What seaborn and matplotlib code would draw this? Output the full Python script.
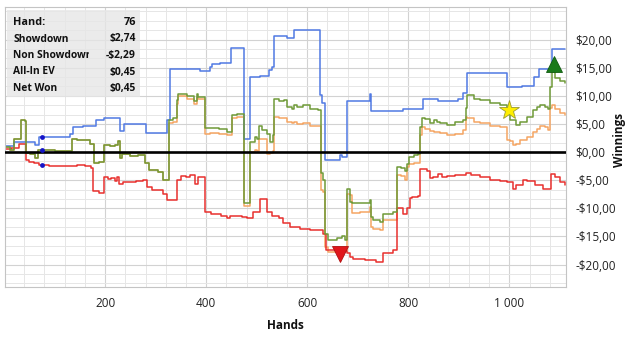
import matplotlib
matplotlib.use("Agg")
import matplotlib.pyplot as plt
from matplotlib.ticker import MultipleLocator, FuncFormatter
from matplotlib.patches import Rectangle
import numpy as np
import pandas as pd
import seaborn as sns

# ---------------- data ----------------
sd_hands = [2, 19, 61, 70, 131, 136, 156, 183, 198, 230, 238, 281, 322, 329, 388, 408, 411, 427,
            449, 475, 487, 507, 525, 530, 534, 559, 574, 625, 629, 635, 665, 668, 678, 724, 726,
            790, 830, 859, 899, 909, 917, 995, 1024, 1049, 1059, 1084, 1110]
sd_vals = [1.0, 1.8, 1.25, 2.74, 3.3, 4.4, 4.6, 5.7, 6.0, 3.8, 5.0, 3.4, 5.7, 14.7, 14.5, 15.2, 15.6, 15.9,
           18.5, 2.4, 13.3, 13.5, 14.6, 15.2, 20.6, 20.2, 21.7, 10.1, 8.7, -1.4, -0.5, -0.8, 9.1, 10.4, 7.35,
           7.6, 9.4, 9.1, 9.4, 10.5, 14.0, 11.5, 11.7, 13.4, 14.7, 18.3, 18.3]

ns_hands = [2, 14, 30, 44, 50, 60, 70, 90, 105, 120, 130, 145, 160, 172, 177, 188, 198, 205, 212, 220,
            223, 228, 236, 250, 262, 276, 283, 292, 315, 322, 342, 350, 360, 368, 378, 383, 398, 410, 430, 441,
            447, 470, 480, 493, 507, 520, 530, 545, 553, 566, 585, 605, 625, 632, 638, 660, 678, 685, 691, 715,
            737, 750, 770, 778, 790, 797, 803, 807, 820, 823, 836, 843, 849, 859, 866, 876, 892, 915, 925, 942,
            962, 981, 995, 1008, 1014, 1027, 1034, 1051, 1067, 1077, 1082, 1090, 1100, 1110]
ns_vals = [0.6, 0.8, 1.4, -1.5, -1.7, -1.9, -2.29, -2.4, -2.5, -2.55, -2.4, -2.3, -2.5, -2.9, -7.0, -7.2, -4.4, -4.8, -4.6, -5.2,
           -4.4, -5.6, -5.3, -5.4, -5.2, -5.0, -6.2, -6.8, -7.4, -8.5, -4.9, -4.2, -4.4, -4.1, -5.6, -4.4, -10.6, -11.0, -11.3, -11.8,
           -11.4, -11.6, -11.8, -10.6, -8.4, -10.6, -11.3, -11.8, -12.7, -13.3, -13.6, -13.8, -13.9, -14.5, -17.4, -17.6, -18.0, -18.6, -19.0, -19.2,
           -19.5, -18.0, -17.4, -10.0, -11.0, -9.9, -8.2, -8.0, -7.8, -3.1, -3.3, -4.7, -4.4, -3.95, -4.4, -4.3, -4.0, -3.7, -4.1, -4.4,
           -4.9, -5.1, -5.3, -6.5, -5.8, -4.9, -5.2, -5.8, -6.5, -6.6, -3.95, -4.4, -5.3, -5.9]

net_hands = [2, 12, 19, 33, 42, 44, 52, 61, 68, 77, 100, 124, 134, 145, 157, 170, 179, 188, 198, 210,
             220, 226, 230, 233, 250, 265, 279, 286, 305, 315, 327, 335, 342, 345, 362, 375, 381, 383, 398, 408,
             425, 441, 451, 462, 475, 487, 497, 500, 505, 510, 521, 526, 532, 534, 545, 555, 559, 569, 574, 579,
             592, 605, 622, 627, 632, 635, 642, 658, 668, 675, 678, 685, 688, 705, 724, 726, 730, 744, 750, 770,
             778, 786, 793, 797, 802, 812, 820, 823, 828, 833, 843, 850, 856, 863, 876, 892, 909, 914, 917, 929,
             942, 962, 981, 995, 1001, 1014, 1021, 1034, 1047, 1054, 1061, 1070, 1077, 1080, 1084, 1090, 1100, 1110]
net_vals = [0.9, 0.4, 2.4, 5.7, 5.6, -0.2, -0.4, -1.1, 0.45, 0.35, 0.2, 0.1, 2.4, 2.1, 2.2, 1.5, -2.0, -1.8, 1.3, 1.1,
            1.3, 1.9, -1.1, -0.4, -0.7, -0.5, -2.0, -3.2, -3.5, -5.0, 5.7, 6.0, 9.2, 10.4, 9.9, 9.0, 10.4, 9.8, 4.2, 4.3,
            4.1, 3.6, 6.6, 6.8, -9.1, 1.8, 2.7, 2.4, 4.6, 3.9, 3.3, 1.8, 3.0, 9.5, 9.0, 9.2, 8.1, 7.6, 8.4, 8.1,
            8.3, 7.6, 7.5, -3.8, -5.0, -14.6, -15.6, -15.3, -15.0, -15.6, -6.5, -8.8, -9.1, -9.0, -8.5, -11.5, -12.1, -12.4, -11.0, -10.6,
            -2.6, -2.9, -3.4, -2.2, -0.8, -0.6, -0.4, 4.5, 6.0, 5.9, 5.1, 5.7, 5.4, 5.1, 4.8, 5.4, 5.7, 7.8, 10.1, 9.5,
            9.2, 8.8, 8.4, 7.5, 5.7, 4.8, 5.4, 6.3, 7.5, 8.1, 8.4, 8.0, 7.6, 11.6, 14.3, 13.1, 12.7, 12.3]

ev_hands = [2, 12, 19, 33, 42, 44, 52, 61, 68, 77, 100, 124, 134, 145, 157, 170, 179, 188, 198, 210,
            220, 226, 230, 233, 250, 265, 279, 286, 305, 315,
            327, 335, 342, 345, 362, 375, 381, 383, 398, 408, 425, 441, 451, 462, 475, 487, 497, 500, 505, 510,
            521, 526, 532, 534, 545, 555, 559, 569, 574, 579, 592, 605, 622, 627, 632, 635, 642, 658, 668, 675,
            678, 685, 688, 705, 724, 726, 730, 744, 750, 770, 778, 786, 793, 797, 802, 812, 820, 823, 828, 833,
            843, 850, 856, 863, 876, 892, 909, 914, 917, 929, 942, 962, 981, 995, 1001, 1008, 1014, 1021, 1034, 1047,
            1054, 1061, 1070, 1077, 1080, 1084, 1090, 1100, 1110]
ev_vals = [0.9, 0.4, 2.4, 5.7, 5.6, -0.2, -0.4, -1.1, 0.45, 0.35, 0.2, 0.1, 2.4, 2.1, 2.2, 1.5, -2.0, -1.8, 1.3, 1.1,
           1.3, 1.9, -1.1, -0.4, -0.7, -0.5, -2.0, -3.2, -3.5, -5.0,
           5.2, 5.4, 8.6, 9.9, 9.4, 8.5, 9.8, 9.4, 3.3, 3.4, 3.3, 3.0, 6.0, 6.2, -9.6, 0.0, 0.3, 0.2, 2.3, 2.4,
           -0.3, -0.2, 0.1, 6.3, 6.0, 6.1, 5.4, 5.2, 5.3, 5.0, 5.1, 4.7, 4.6, -6.8, -7.1, -16.8, -17.7, -17.4, -17.2, -17.6,
           -7.4, -7.7, -10.8, -10.7, -9.7, -13.3, -13.6, -13.9, -12.1, -12.0, -4.1, -4.3, -5.0, -2.6, -2.2, -2.0, -1.9, 3.0, 4.4, 4.1,
           3.8, 3.5, 3.6, 3.4, 3.1, 3.3, 3.9, 6.3, 6.0, 5.3, 5.2, 4.6, 4.5, 2.1, 2.0, 1.2, 1.5, 2.1, 2.7, 3.6,
           4.1, 4.7, 4.4, 3.9, 7.8, 8.4, 7.6, 6.9, 6.6]

series_names = ["All-In EV", "Showdown", "Non Showdown", "Net Won"]
series_colors = ["#f5a563", "#5079e3", "#e8302e", "#6f9a38"]

cursor_hand = 76
cursor_vals = [2.74, 0.45, -2.29]

min_marker = (664, -18.2)
max_marker = (1088, 15.6)
star_marker = (999, 7.5)

info_labels = ["Hand:", "Showdown", "Non Showdown", "All-In EV", "Net Won"]
info_values = ["76", "$2,74", "-$2,29", "$0,45", "$0,45"]

x_ticks = [200, 400, 600, 800, 1000]
y_ticks = [-20, -15, -10, -5, 0, 5, 10, 15, 20]

# ---------------- build table ----------------
frames = []
for name, h, v in [("Showdown", sd_hands, sd_vals), ("Non Showdown", ns_hands, ns_vals),
                   ("Net Won", net_hands, net_vals), ("All-In EV", ev_hands, ev_vals)]:
    assert len(h) == len(v)
    frames.append(pd.DataFrame({"hand": h, "value": v, "series": name}))
df = pd.concat(frames, ignore_index=True)

# ---------------- style ----------------
sns.set_theme(style="white")
plt.rcParams["font.family"] = ["Open Sans", "DejaVu Sans"]

W, H = 632, 337
fig = plt.figure(figsize=(W / 100, H / 100), dpi=100)
L, R, T, B = 5, 566, 7, 287
ax = fig.add_axes([L / W, 1 - B / H, (R - L) / W, (B - T) / H])

sns.lineplot(data=df, x="hand", y="value", hue="series", hue_order=series_names,
             palette=dict(zip(series_names, series_colors)), estimator=None, sort=False,
             drawstyle="steps-post", linewidth=1.1, legend=False, ax=ax, zorder=2)

ax.axhline(0, color="black", lw=1.9, zorder=3)

# cursor dots
ax.scatter([cursor_hand] * len(cursor_vals), cursor_vals, s=12, color="#1414c8", zorder=5, linewidths=0)

# markers
ax.plot([min_marker[0]], [min_marker[1]], marker="v", ms=11, color="#e0161b", mec="#b01010", mew=0.6, zorder=6)
ax.plot([max_marker[0]], [max_marker[1]], marker="^", ms=11, color="#1a7a1a", mec="#0f5a0f", mew=0.6, zorder=6)
ax.plot([star_marker[0]], [star_marker[1]], marker="*", ms=15, color="#ffee00", mec="#9a9a30", mew=0.6, zorder=6)

# axes
ax.set_xlim(2, 1112)
ax.set_ylim(-24.0, 25.8)
ax.xaxis.set_major_locator(plt.FixedLocator(x_ticks))
ax.xaxis.set_minor_locator(MultipleLocator(40))
ax.yaxis.set_major_locator(plt.FixedLocator(y_ticks))
ax.yaxis.set_minor_locator(MultipleLocator(5 / 3))
ax.grid(which="major", color="#d2d2d2", lw=0.8)
ax.grid(which="minor", color="#e6e6e6", lw=0.7)
ax.set_axisbelow(True)

ax.xaxis.set_major_formatter(FuncFormatter(lambda v, p: f"{int(v):,}".replace(",", " ")))
ax.yaxis.set_major_formatter(FuncFormatter(
    lambda v, p: ("-" if v < 0 else "") + "$" + f"{abs(v):.2f}".replace(".", ",")))
ax.yaxis.tick_right()
ax.tick_params(axis="x", which="both", length=0, pad=7, labelsize=8.5, labelcolor="#222222")
ax.tick_params(axis="y", which="both", length=0, pad=7, labelsize=8.5, labelcolor="#222222")

for s in ax.spines.values():
    s.set_color("#c4c4c4")
    s.set_linewidth(0.8)

ax.set_xlabel("Hands", fontsize=8.5, fontweight="bold", color="#111111")
ax.xaxis.set_label_coords(0.5, -0.115)
ax.yaxis.set_label_position("right")
ax.set_ylabel("Winnings", fontsize=8.5, fontweight="bold", color="#111111", rotation=90)
ax.yaxis.set_label_coords(1.084, 0.525)

# info box
box = Rectangle((7 / W, 1 - 97 / H), (140 - 7) / W, (97 - 10) / H, transform=fig.transFigure,
                facecolor="#e6e6e6", edgecolor="none", alpha=0.8, zorder=10)
fig.patches.append(box)
rows_y = [22.5, 39, 55.5, 72, 88.5]
clip_rect = Rectangle((7 / W, 0), (89 - 7) / W, 1, transform=fig.transFigure)
for lab, val, yy in zip(info_labels, info_values, rows_y):
    fs = 7.8 if lab == "Hand:" else 7.4
    t = fig.text(13 / W, 1 - yy / H, lab, ha="left", va="center", fontsize=fs,
                 fontweight="bold", color="#111111", zorder=11)
    if lab == "Non Showdown":
        t.set_clip_path(clip_rect)
        t.set_clip_on(True)
    fig.text(136 / W, 1 - yy / H, val, ha="right", va="center", fontsize=fs,
             fontweight="bold", color="#111111", zorder=11)

fig.savefig("out.png", dpi=100, facecolor="white")
